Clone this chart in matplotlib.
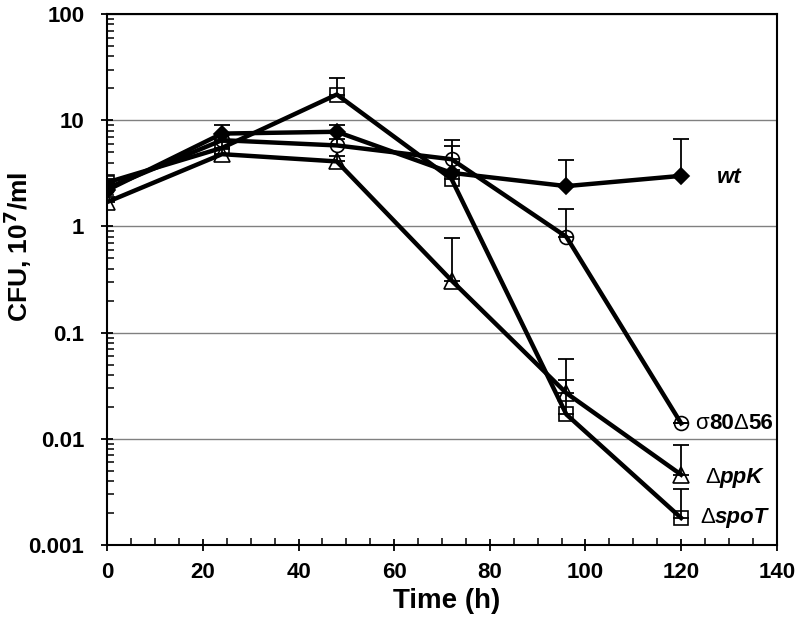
import matplotlib
matplotlib.use("Agg")
import matplotlib.pyplot as plt
from matplotlib.ticker import LogLocator, MultipleLocator, FuncFormatter
from matplotlib.offsetbox import TextArea, HPacker, AnnotationBbox

plt.rcParams['font.family'] = ['Liberation Sans', 'DejaVu Sans']

time = [0, 24, 48, 72, 96, 120]

wt = [2.2, 7.5, 7.8, 3.2, 2.4, 3.0]
wt_err = [0.3, 1.6, 1.3, 2.5, 1.8, 3.7]

sigma = [2.3, 6.5, 5.8, 4.3, 0.80, 0.014]
sigma_err = [0.2, 1.0, 0.8, 2.2, 0.65, 0.0]

ppk = [1.7, 4.8, 4.1, 0.31, 0.027, 0.0046]
ppk_err = [0.2, 0.6, 0.5, 0.47, 0.029, 0.0041]

spot = [2.6, 5.5, 17.5, 2.8, 0.017, 0.0018]
spot_err = [0.2, 0.8, 7.5, 0.6, 0.019, 0.0016]

fig = plt.figure(figsize=(8.0, 6.42), dpi=100)
ax = fig.add_axes([0.134, 0.151, 0.837, 0.827])

lw = 3.2
series = [
    (spot, spot_err, dict(marker='s', mfc='none', mec='black', ms=10)),
    (ppk, ppk_err, dict(marker='^', mfc='none', mec='black', ms=11)),
    (sigma, sigma_err, dict(marker='o', mfc='none', mec='black', ms=10)),
    (wt, wt_err, dict(marker='D', mfc='black', mec='black', ms=8)),
]
for vals, errs, mk in series:
    ax.errorbar(time, vals, yerr=[[0] * len(errs), errs], fmt='none',
                ecolor='black', elinewidth=1.3, capsize=6, capthick=1.3, zorder=3)
    ax.plot(time, vals, color='black', lw=lw, mew=1.2, zorder=4, **mk)

ax.set_yscale('log')
ax.set_ylim(0.001, 100)
ax.set_xlim(0, 140)

ax.xaxis.set_major_locator(MultipleLocator(20))
ax.xaxis.set_minor_locator(MultipleLocator(5))
ax.yaxis.set_major_locator(LogLocator(base=10, numticks=10))
ax.yaxis.set_minor_locator(LogLocator(base=10, subs=range(2, 10), numticks=20))

def yfmt(v, pos):
    return ('%.3f' % v).rstrip('0').rstrip('.')
ax.yaxis.set_major_formatter(FuncFormatter(yfmt))

ax.tick_params(axis='both', which='major', direction='inout', length=9, width=1.3,
               labelsize=16)
ax.tick_params(axis='x', which='major', pad=8)
ax.tick_params(axis='y', which='major', pad=12)
ax.tick_params(axis='both', which='minor', direction='in', length=5, width=1.1)
for lab in ax.get_xticklabels() + ax.get_yticklabels():
    lab.set_fontweight('bold')

ax.grid(True, which='major', axis='y', color='#808080', lw=1.0)
ax.set_axisbelow(True)
for sp in ax.spines.values():
    sp.set_linewidth(1.5)
    sp.set_color('black')

fig.text(447 / 800, 1 - 601 / 642, 'Time (h)', fontsize=20, fontweight='bold',
         ha='center', va='center')
fig.text(18 / 800, 1 - 247 / 642, 'CFU, 10$^{\\mathbf{7}}$/ml', fontsize=19,
         fontweight='bold', rotation=90, ha='center', va='center')

def label(parts, x, y):
    areas = [TextArea(t, textprops=dict(fontsize=16, **p)) for t, p in parts]
    box = HPacker(children=areas, align='baseline', pad=0, sep=0)
    ab = AnnotationBbox(box, (x, y), xycoords='data', box_alignment=(0, 0.5),
                        frameon=False, pad=0)
    ax.add_artist(ab)

bi = dict(fontweight='bold', fontstyle='italic')
b = dict(fontweight='bold')
n = dict(fontweight='normal')
label([('wt', bi)], 127.5, 2.9)
label([('σ', n), ('80', b), ('Δ', n), ('56', b)], 123.0, 0.0141)
label([('Δ', n), ('ppK', bi)], 125.0, 0.0043)
label([('Δ', n), ('spoT', bi)], 124.0, 0.0018)

fig.savefig('out.png', dpi=100)
